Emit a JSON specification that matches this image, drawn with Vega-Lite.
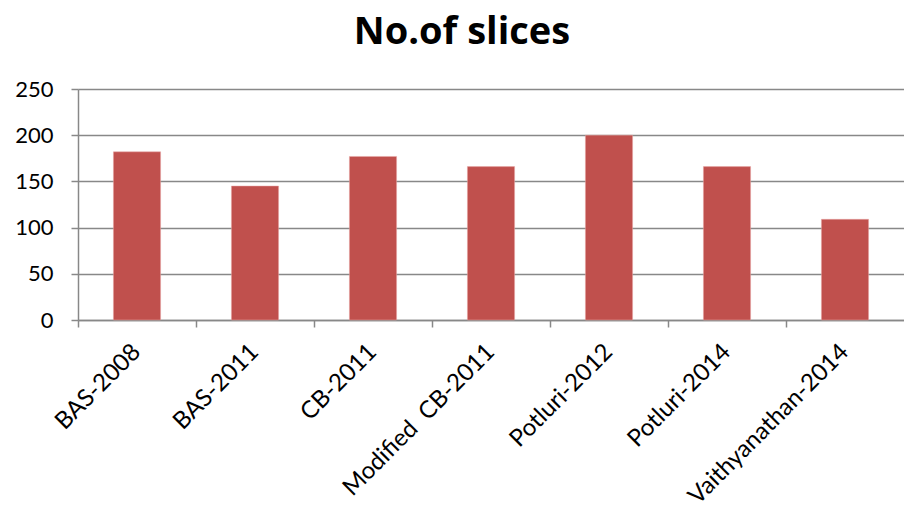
{
  "$schema": "https://vega.github.io/schema/vega-lite/v6.json",
  "width": 826,
  "height": 231,
  "autosize": {"type": "none"},
  "padding": {"left": 78, "top": 89, "right": 0, "bottom": 196},
  "background": "white",
  "title": {
    "text": "No.of slices",
    "font": "Open Sans",
    "fontSize": 38,
    "fontWeight": "bold",
    "color": "black",
    "anchor": "middle",
    "frame": "group",
    "dx": -29,
    "dy": -6,
    "offset": 20
  },
  "data": {
    "values": [
      {"method": "BAS-2008", "slices": 182},
      {"method": "BAS-2011", "slices": 145},
      {"method": "CB-2011", "slices": 177},
      {"method": "Modified\u00a0\u00a0CB-2011", "slices": 166},
      {"method": "Potluri-2012", "slices": 200},
      {"method": "Potluri-2014", "slices": 166},
      {"method": "Vaithyanathan-2014", "slices": 109}
    ]
  },
  "mark": {"type": "bar", "width": {"band": 0.4}, "color": "#C0504D", "stroke": "#E8A8A6", "strokeWidth": 0.5},
  "encoding": {
    "x": {
      "field": "method",
      "type": "nominal",
      "sort": null,
      "scale": {"paddingInner": 0, "paddingOuter": 0},
      "axis": {
        "title": null,
        "bandPosition": 0,
        "labelAngle": -45,
        "labelAlign": "right",
        "labelBaseline": "middle",
        "labelFont": "Lato",
        "labelFontSize": 24,
        "labelColor": "black",
        "labelPadding": 21,
        "labelOffset": 0,
        "labelLimit": 0,
        "domainColor": "#888888",
        "domainWidth": 1.5,
        "tickColor": "#888888",
        "tickWidth": 1.5,
        "tickSize": 7,
        "grid": false,
        "labelBound": false,
        "labelOverlap": false
      }
    },
    "y": {
      "field": "slices",
      "type": "quantitative",
      "scale": {"domain": [0, 250], "nice": false},
      "axis": {
        "title": null,
        "values": [0, 50, 100, 150, 200, 250],
        "labelFont": "Lato",
        "labelFontSize": 22,
        "labelColor": "black",
        "labelPadding": 18,
        "domainColor": "#888888",
        "domainWidth": 1.5,
        "tickColor": "#888888",
        "tickWidth": 1.5,
        "tickSize": 7,
        "gridColor": "#888888",
        "gridWidth": 1.5
      }
    }
  },
  "config": {"view": {"stroke": null}}
}
